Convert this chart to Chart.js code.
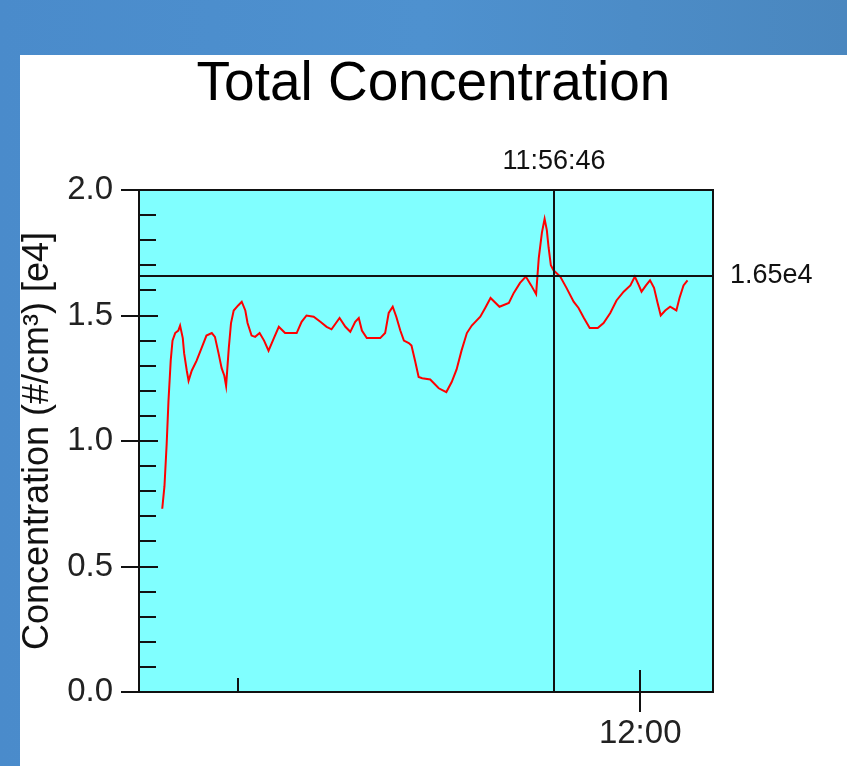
<!DOCTYPE html>
<html>
<head>
<meta charset="utf-8">
<script src="https://cdn.jsdelivr.net/npm/chart.js@4"></script>
<style>
  html, body { margin: 0; padding: 0; }
  body { width: 847px; height: 766px; overflow: hidden; }
</style>
</head>
<body>
<canvas id="chartArea" width="847" height="766"></canvas>
<script>
// sample times and concentration values (x 1e4 #/cm3)
var times = ['11:42:10','11:42:15','11:42:20','11:42:24','11:42:29','11:42:33','11:42:39','11:42:46','11:42:50','11:42:56',
  '11:42:59','11:43:05','11:43:09','11:43:16','11:43:27','11:43:38','11:43:49','11:44:01','11:44:08','11:44:16',
  '11:44:23','11:44:29','11:44:33','11:44:39','11:44:44','11:44:50','11:45:00','11:45:08','11:45:16','11:45:21',
  '11:45:30','11:45:38','11:45:48','11:45:58','11:46:08','11:46:20','11:46:31','11:46:45','11:47:11','11:47:22',
  '11:47:33','11:47:49','11:48:04','11:48:18','11:48:29','11:48:47','11:49:00','11:49:11','11:49:22','11:49:30',
  '11:49:37','11:49:48','11:50:18','11:50:29','11:50:37','11:50:46','11:50:54','11:51:03','11:51:11','11:51:22',
  '11:51:28','11:51:36','11:51:44','11:51:52','11:52:10','11:52:29','11:52:46','11:52:58','11:53:09','11:53:20',
  '11:53:32','11:53:43','11:54:02','11:54:13','11:54:25','11:54:45','11:55:06','11:55:17','11:55:31','11:55:44',
  '11:55:56','11:56:07','11:56:13','11:56:20','11:56:26','11:56:31','11:56:35','11:56:40','11:56:46','11:57:01',
  '11:57:15','11:57:31','11:57:42','11:57:54','11:58:07','11:58:25','11:58:38','11:58:53','11:59:07','11:59:23',
  '11:59:38','11:59:48','11:59:57','12:00:03','12:00:13','12:00:22','12:00:31','12:00:39','12:00:46','12:00:56',
  '12:01:07','12:01:21','12:01:28','12:01:37','12:01:46'];
var concentration = [0.73,0.82,0.99,1.16,1.32,1.40,1.43,1.44,1.46,1.41,
  1.35,1.28,1.24,1.28,1.32,1.37,1.42,1.43,1.415,1.35,
  1.29,1.26,1.22,1.37,1.47,1.52,1.54,1.555,1.52,1.47,
  1.42,1.415,1.43,1.40,1.36,1.41,1.455,1.43,1.43,1.475,
  1.50,1.495,1.475,1.455,1.445,1.49,1.455,1.435,1.475,1.49,
  1.44,1.41,1.41,1.43,1.51,1.535,1.495,1.44,1.40,1.39,
  1.38,1.32,1.255,1.25,1.245,1.21,1.195,1.235,1.285,1.36,
  1.43,1.46,1.495,1.53,1.57,1.535,1.55,1.59,1.63,1.655,
  1.62,1.585,1.73,1.83,1.885,1.84,1.77,1.70,1.68,1.655,
  1.61,1.555,1.53,1.49,1.45,1.45,1.47,1.51,1.56,1.595,
  1.62,1.655,1.62,1.595,1.62,1.64,1.61,1.55,1.50,1.52,
  1.535,1.52,1.57,1.62,1.64];

var xRange = ['11:41:18', '12:02:43'];
var xMajorTicks = ['12:00'];
var xMinorTicks = ['11:45'];
var yMinorStep = 0.1;

// cursor readout
var cursorTime = '11:56:46';
var cursorValue = 1.656;
var cursorLabel = '1.65e4';

var FONT = '"Liberation Sans", Arial, sans-serif';

function toSec(t) {
    var p = t.split(':');
    return (+p[0]) * 3600 + (+p[1]) * 60 + (p[2] ? +p[2] : 0);
}
function fmtHM(s) {
    var h = Math.floor(s / 3600), m = Math.floor((s % 3600) / 60);
    return h + ':' + (m < 10 ? '0' : '') + m;
}

var points = times.map(function(t, i) {
    return { x: toSec(t), y: concentration[i] };
});

var decor = {
    id: 'decor',
    beforeDraw: function(chart) {
        var ctx = chart.ctx, a = chart.chartArea;
        ctx.save();
        var g = ctx.createLinearGradient(0, 0, chart.width, 0);
        g.addColorStop(0, '#4a8bcb');
        g.addColorStop(0.5, '#4e91cf');
        g.addColorStop(1, '#4a87bf');
        ctx.fillStyle = g;
        ctx.fillRect(0, 0, chart.width, chart.height);
        ctx.fillStyle = '#ffffff';
        ctx.fillRect(20, 55, chart.width - 20, chart.height - 55);
        ctx.fillStyle = '#80ffff';
        ctx.fillRect(a.left, a.top, a.right - a.left, a.bottom - a.top);
        ctx.restore();
    },
    afterDatasetsDraw: function(chart) {
        var ctx = chart.ctx, a = chart.chartArea;
        var xs = chart.scales.x, ys = chart.scales.y;
        var cx = Math.round(xs.getPixelForValue(toSec(cursorTime)));
        var cy = Math.round(ys.getPixelForValue(cursorValue));
        ctx.save();
        ctx.strokeStyle = '#111';
        ctx.lineWidth = 2;
        ctx.beginPath();
        ctx.moveTo(cx, a.top); ctx.lineTo(cx, a.bottom);
        ctx.moveTo(a.left, cy); ctx.lineTo(a.right, cy);
        ctx.stroke();
        ctx.fillStyle = '#111';
        ctx.font = '27px ' + FONT;
        ctx.textBaseline = 'middle';
        ctx.textAlign = 'center';
        ctx.fillText(cursorTime, cx, 162);
        ctx.textAlign = 'left';
        ctx.fillText(cursorLabel, a.right + 17, cy);
        ctx.restore();
    },
    afterDraw: function(chart) {
        var ctx = chart.ctx, a = chart.chartArea;
        var xs = chart.scales.x, ys = chart.scales.y;
        ctx.save();
        ctx.strokeStyle = '#111';
        ctx.lineWidth = 2;
        ctx.strokeRect(a.left, a.top, a.right - a.left, a.bottom - a.top);
        ctx.beginPath();
        // y ticks on the inside
        var n = Math.round((ys.max - ys.min) / yMinorStep);
        for (var i = 1; i < n; i++) {
            var v = ys.min + i * yMinorStep;
            var py = Math.round(ys.getPixelForValue(v));
            var len = (i % 5 === 0) ? 19 : 17;
            ctx.moveTo(a.left, py); ctx.lineTo(a.left + len, py);
        }
        // x ticks on the inside
        xMajorTicks.forEach(function(t) {
            var px = Math.round(xs.getPixelForValue(toSec(t)));
            ctx.moveTo(px, a.bottom); ctx.lineTo(px, a.bottom - 22);
        });
        xMinorTicks.forEach(function(t) {
            var px = Math.round(xs.getPixelForValue(toSec(t)));
            ctx.moveTo(px, a.bottom); ctx.lineTo(px, a.bottom - 14);
        });
        ctx.stroke();
        ctx.restore();
    }
};

var ctx = document.getElementById('chartArea').getContext('2d');
var myChart = new Chart(ctx, {
    type: 'line',
    data: {
        datasets: [{
            data: points,
            borderColor: '#ff0000',
            borderWidth: 2,
            pointRadius: 0,
            tension: 0,
            fill: false
        }]
    },
    options: {
        responsive: false,
        animation: false,
        devicePixelRatio: 1,
        layout: { padding: { left: 20, top: 55, right: 0, bottom: 0 } },
        plugins: {
            legend: { display: false },
            tooltip: { enabled: false },
            title: {
                display: true,
                text: 'Total Concentration',
                color: '#000',
                font: { family: FONT, size: 55, weight: 'normal', lineHeight: 1 },
                padding: { top: 2, bottom: 78 }
            }
        },
        scales: {
            x: {
                type: 'linear',
                min: toSec(xRange[0]),
                max: toSec(xRange[1]),
                afterBuildTicks: function(scale) {
                    scale.ticks = xMajorTicks.map(function(t) { return { value: toSec(t) }; });
                },
                afterFit: function(scale) { scale.height = 74; },
                grid: { drawOnChartArea: false, drawTicks: true, tickLength: 20, color: '#111', lineWidth: 2 },
                border: { display: true, color: '#111', width: 2 },
                ticks: {
                    color: '#222',
                    padding: 2,
                    maxRotation: 0,
                    autoSkip: false,
                    font: { family: FONT, size: 33 },
                    callback: function(v) { return fmtHM(v); }
                }
            },
            y: {
                min: 0,
                max: 2,
                afterFit: function(scale) { scale.width = 119; },
                grid: { drawOnChartArea: false, drawTicks: true, tickLength: 18, color: '#111', lineWidth: 2 },
                border: { display: true, color: '#111', width: 2 },
                ticks: {
                    stepSize: 0.5,
                    color: '#222',
                    padding: 8,
                    font: { family: FONT, size: 33 },
                    callback: function(v) { return v.toFixed(1); }
                },
                title: {
                    display: true,
                    text: 'Concentration (#/cm³) [e4]',
                    color: '#111',
                    padding: 0,
                    font: { family: FONT, size: 36, lineHeight: 1 }
                }
            },
            // empty right-hand margin that holds the cursor readout
            yRight: {
                position: 'right',
                display: true,
                min: 0,
                max: 2,
                afterFit: function(scale) { scale.width = 134; },
                grid: { display: false },
                border: { display: false },
                ticks: { display: false }
            }
        }
    },
    plugins: [decor]
});
</script>
</body>
</html>
